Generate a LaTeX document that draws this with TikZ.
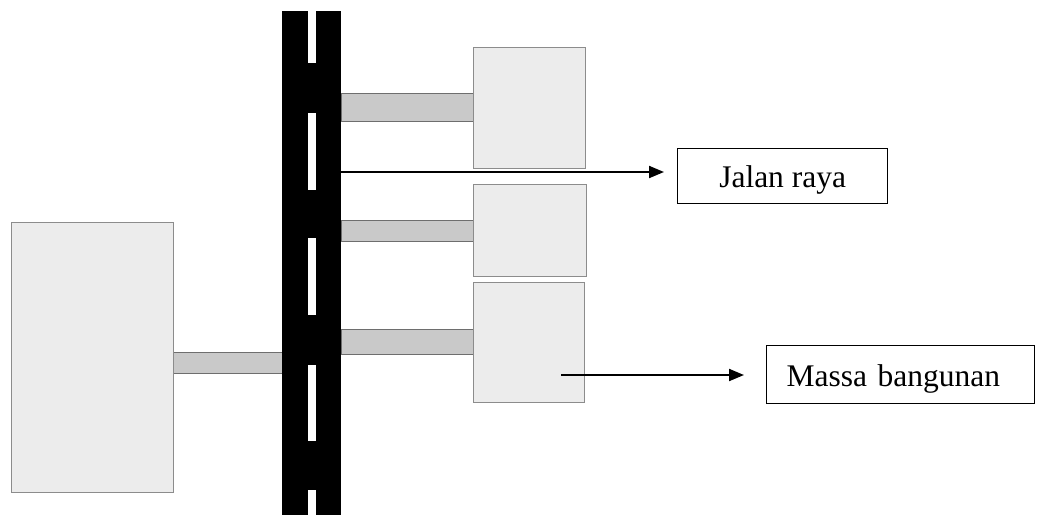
\documentclass[tikz,border=0pt]{standalone}
\usepackage{fontspec}
\setmainfont{Liberation Serif}
\usetikzlibrary{arrows.meta}
\definecolor{massfill}{HTML}{ECECEC}
\definecolor{massedge}{HTML}{8C8C8C}
\definecolor{linkfill}{HTML}{C9C9C9}
\definecolor{linkedge}{HTML}{6E6E6E}
\tikzset{
  mass/.style={draw=massedge, fill=massfill, line width=1.4pt, inner sep=0pt, anchor=north west},
  link/.style={draw=linkedge, fill=linkfill, line width=1.2pt, inner sep=0pt, anchor=north west},
  labelbox/.style={draw=black, line width=1.3pt, inner sep=0pt, anchor=north west,
    font=\fontsize{31.5}{36}\selectfont, text height=23pt, text depth=0pt},
  pointer/.style={line width=2pt, -{Triangle[length=15pt,width=12pt]}},
}
\begin{document}
\begin{tikzpicture}[x=1pt, y=-1pt]
\useasboundingbox (0,0) rectangle (1038,515);

% driveways from the buildings to the road
\node[link, minimum width=132pt, minimum height=28pt] (link1) at (341,93) {};
\node[link, minimum width=132pt, minimum height=21pt] (link2) at (341,220) {};
\node[link, minimum width=132pt, minimum height=25pt] (link3) at (341,329) {};
\node[link, minimum width=109pt, minimum height=21pt] (link4) at (173,352) {};

% road with centre markings
\fill[black] (282,11) rectangle (341,515);
\foreach \ya/\yb in {11/63, 113/190, 238/315, 365/441, 490/515}
  \fill[white] (308,\ya) rectangle (316,\yb);
\coordinate (roadedge) at (341,172);

% building masses
\node[mass, minimum width=112pt, minimum height=121pt] (b1) at (473,47) {};
\node[mass, minimum width=113pt, minimum height=92pt] (b2) at (473,184) {};
\node[mass, minimum width=111pt, minimum height=120pt] (b3) at (473,282) {};
\node[mass, minimum width=162pt, minimum height=270pt] (b4) at (11,222) {};
\coordinate (massref) at (561,375);

% legend labels
\node[labelbox, minimum width=210pt, minimum height=55pt] (jalan) at (677,148) {Jalan raya};
\node[labelbox, inner xsep=20pt, text width=228pt, align=left, minimum height=58pt] (massa) at (766,345) {Massa bangunan};

\draw[pointer, shorten >=13pt] (roadedge) -- (roadedge -| jalan.west);
\draw[pointer, shorten >=22pt] (massref) -- (massref -| massa.west);
\end{tikzpicture}
\end{document}
